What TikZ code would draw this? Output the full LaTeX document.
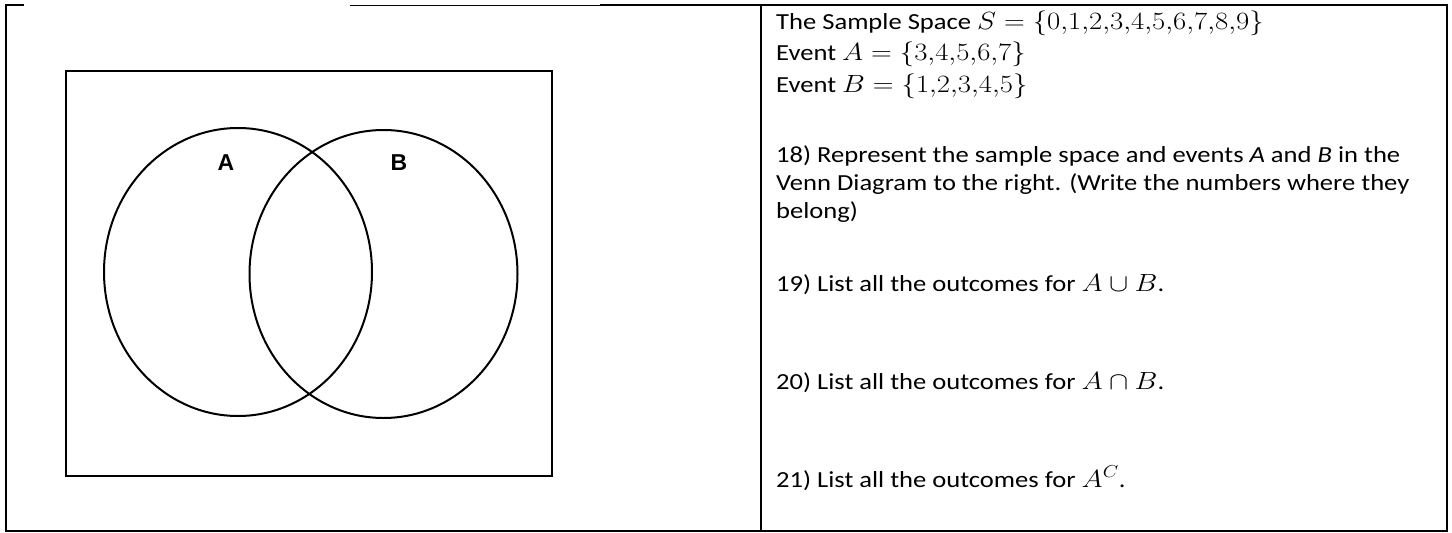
\documentclass[tikz,border=0pt]{standalone}
\usepackage{fontspec}
\setmainfont{Carlito}
\newfontfamily\labelfont{Liberation Sans}
\usetikzlibrary{shapes.geometric}

\begin{document}
\begin{tikzpicture}[x=1pt,y=1pt,
    venn/.style={draw,ellipse,line width=2pt,minimum width=268pt,minimum height=288pt,inner sep=0pt},
    setlabel/.style={font=\labelfont\bfseries\fontsize{23}{23}\selectfont,inner sep=0pt},
    qline/.style={anchor=base west,inner sep=0pt,xscale=1.155,font=\fontsize{23}{28}\selectfont}]
  \useasboundingbox (0,0) rectangle (1452,-533);
  % table frame
  \draw[line width=0.8pt] (350,-5) -- (600,-5);
  \draw[line width=2.2pt] (24,-5) -| (6,-531) -| (1447,-5) -- (600,-5);
  \draw[line width=2.2pt] (761,-5) -- (761,-531);
  % venn diagram
  \node[draw,line width=2pt,minimum width=486pt,minimum height=405pt,inner sep=0pt] (space) at (309,-273.5) {};
  \node[venn] (setA) at (238,-272) {};
  \node[venn] (setB) at (383.5,-274) {};
  \node[setlabel] (labA) at (226,-163) {A};
  \node[setlabel] (labB) at (399,-163) {B};
  % questions
  \node[qline] (defS) at (776,-29) {The Sample Space $S=\{0{,}1{,}2{,}3{,}4{,}5{,}6{,}7{,}8{,}9\}$};
  \node[qline] (defA) at (776,-60) {Event $A=\{3{,}4{,}5{,}6{,}7\}$};
  \node[qline] (defB) at (776,-92) {Event $B=\{1{,}2{,}3{,}4{,}5\}$};
  \node[qline] (q18a) at (776,-162) {18) Represent the sample space and events \textit{A} and \textit{B} in the};
  \node[qline] (q18b) at (776,-190) {Venn Diagram to the right. (Write the numbers where they};
  \node[qline] (q18c) at (776,-218) {belong)};
  \node[qline] (q19) at (776,-291) {19) List all the outcomes for $A\cup B$.};
  \node[qline] (q20) at (776,-389) {20) List all the outcomes for $A\cap B$.};
  \node[qline] (q21) at (776,-487) {21) List all the outcomes for $A^{C}$.};
\end{tikzpicture}
\end{document}
